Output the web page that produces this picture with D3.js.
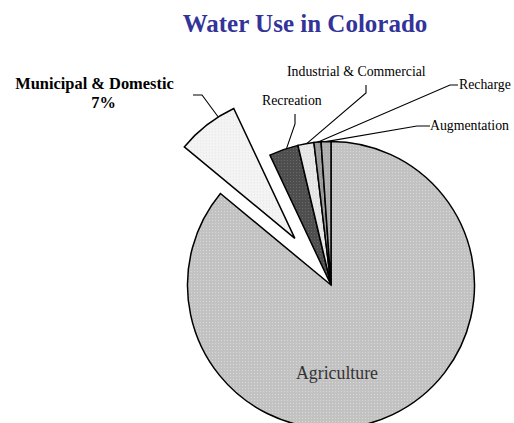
<!DOCTYPE html>
<html>
<head>
<meta charset="utf-8">
<script src="https://cdn.jsdelivr.net/npm/d3@7"></script>
<style>
  html, body { margin: 0; padding: 0; background: #fff; }
  svg { display: block; }
</style>
</head>
<body>
<svg id="chart" width="514" height="423"></svg>
<script>
// ---- data ----
const categories = ["Agriculture", "Municipal & Domestic", "Recreation", "Industrial & Commercial", "Recharge", "Augmentation"];
const values = [86, 7, 3.3, 1.8, 0.8, 1.1];
const percentLabels = ["", "7%", "", "", "", ""];
const titleText = "Water Use in Colorado";

// ---- styling / layout ----
const fills = [
  { base: "#c2c2c2", dot: "#d8d8d8" },
  { base: "#f4f4f4", dot: "#e2e2e2" },
  { base: "#4e4e4e", dot: "#6a6a6a" },
  { base: "#e4e4e4", dot: "#f6f6f6" },
  { base: "#9a9a9a", dot: "#b0b0b0" },
  { base: "#aeaeae", dot: "#c2c2c2" }
];
const cx = 331, cy = 285, R = 143.5;
const explode = [0, 59, 0, 0, 0, 0];

const svg = d3.select("#chart");
const defs = svg.append("defs");
fills.forEach((f, i) => {
  const p = defs.append("pattern").attr("id", "pat" + i)
    .attr("width", 3).attr("height", 3).attr("patternUnits", "userSpaceOnUse");
  p.append("rect").attr("width", 3).attr("height", 3).attr("fill", f.base);
  p.append("rect").attr("x", 1).attr("y", 1).attr("width", 1).attr("height", 1).attr("fill", f.dot);
});

svg.append("text")
  .attr("x", 305).attr("y", 32)
  .attr("text-anchor", "middle")
  .attr("font-family", "'Liberation Serif', 'Times New Roman', serif")
  .attr("font-weight", "bold")
  .attr("font-size", 25)
  .attr("fill", "#333399")
  .text(titleText);

const pie = d3.pie().sort(null).value(d => d).startAngle(0).endAngle(2 * Math.PI);
const arcs = pie(values);
const arcGen = d3.arc().innerRadius(0).outerRadius(R);

const g = svg.append("g").attr("transform", `translate(${cx},${cy})`);
g.selectAll("path.slice")
  .data(arcs)
  .join("path")
  .attr("class", "slice")
  .attr("transform", (d, i) => {
    const mid = (d.startAngle + d.endAngle) / 2;
    return `translate(${Math.sin(mid) * explode[i]},${-Math.cos(mid) * explode[i]})`;
  })
  .attr("d", arcGen)
  .attr("fill", (d, i) => `url(#pat${i})`)
  .attr("stroke", "#000")
  .attr("stroke-width", 1.5)
  .attr("stroke-linejoin", "miter");

// point on the outer edge of a slice, at fraction t of its angular span
function edgePoint(i, t, rr) {
  const d = arcs[i];
  const a = d.startAngle + (d.endAngle - d.startAngle) * t;
  const mid = (d.startAngle + d.endAngle) / 2;
  const ox = Math.sin(mid) * explode[i], oy = -Math.cos(mid) * explode[i];
  const r = rr || R;
  return [cx + ox + Math.sin(a) * r, cy + oy - Math.cos(a) * r];
}

// label layout (positions of texts and leader elbows)
const labelLayout = [
  null,
  { lines: [[94.5, 89, "bold", 16.4, "middle", categories[1]], [103.5, 108, "bold", 16.4, "middle", percentLabels[1]]],
    path: [[193, 95], [202, 95]], t: 0.72 },
  { lines: [[262, 105, "normal", 13.8, "start", categories[2]]],
    path: [[295, 114], [295, 124]], t: 0.6 },
  { lines: [[287, 76, "normal", 13.8, "start", categories[3]]],
    path: [[366, 85], [366, 93]], t: 0.55 },
  { lines: [[459, 89, "normal", 13.8, "start", categories[4]]],
    path: [[458, 85], [450, 85]], t: 0.5 },
  { lines: [[430, 130, "normal", 13.8, "start", categories[5]]],
    path: [[430, 126], [417, 126]], t: 0.5 }
];

labelLayout.forEach((L, i) => {
  if (!L) return;
  const pts = L.path.concat([edgePoint(i, L.t)]);
  svg.append("path")
    .attr("d", d3.line()(pts))
    .attr("fill", "none")
    .attr("stroke", "#000")
    .attr("stroke-width", 1.1);
  L.lines.forEach(l => {
    svg.append("text")
      .attr("x", l[0]).attr("y", l[1])
      .attr("text-anchor", l[4])
      .attr("font-family", "'Liberation Serif', 'Times New Roman', serif")
      .attr("font-weight", l[2])
      .attr("font-size", l[3])
      .attr("fill", "#000")
      .text(l[5]);
  });
});

// Agriculture label inside its slice
svg.append("text")
  .attr("x", 337).attr("y", 379)
  .attr("text-anchor", "middle")
  .attr("font-family", "'Liberation Serif', 'Times New Roman', serif")
  .attr("font-size", 17.8)
  .attr("fill", "#333")
  .text(categories[0]);
</script>
</body>
</html>
